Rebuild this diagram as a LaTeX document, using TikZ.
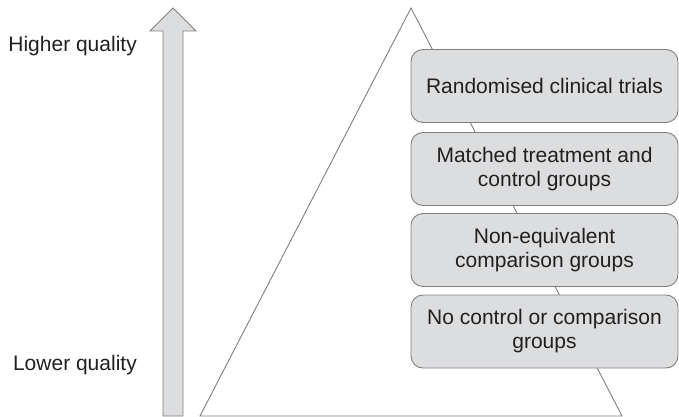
\documentclass[tikz,border=0pt]{standalone}
\usepackage{fontspec}
\setmainfont{Liberation Sans}
\definecolor{boxfill}{HTML}{DCDDDF}
\definecolor{edge}{HTML}{7F7F7F}
\definecolor{ink}{HTML}{231F20}
\begin{document}
\begin{tikzpicture}[x=1pt,y=-1pt,
  lvl/.style={draw=edge,line width=0.9pt,fill=boxfill,rounded corners=12pt,
    minimum width=267pt,minimum height=73pt,align=center,text=ink,
    font=\fontsize{21}{24}\selectfont,inner sep=0pt},
  lbl/.style={text=ink,font=\fontsize{21}{24}\selectfont,inner sep=0pt,anchor=base east}]
\useasboundingbox (0,0) rectangle (679,417);
% pyramid
\coordinate (apex) at (411,8);
\coordinate (bl) at (200,416);
\coordinate (br) at (622,416);
\draw[edge,line width=0.9pt,line join=miter] (apex) -- (br) -- (bl) -- cycle;
% quality arrow
\draw[draw=edge,fill=boxfill,line width=0.9pt]
  (173,8) -- (196,31) -- (183,31) -- (183,416) -- (163,416) -- (163,31) -- (150,31) -- cycle;
% labels
\node[lbl] (hi) at (137,52) {Higher quality};
\node[lbl] (lo) at (137,370) {Lower quality};
% levels
\node[lvl] (l1) at (544.5,86) {Randomised clinical trials};
\node[lvl] (l2) at (544.5,169) {Matched treatment and\\control groups};
\node[lvl] (l3) at (544.5,250) {Non-equivalent\\comparison groups};
\node[lvl] (l4) at (544.5,331.5) {No control or comparison\\groups};
\end{tikzpicture}
\end{document}
